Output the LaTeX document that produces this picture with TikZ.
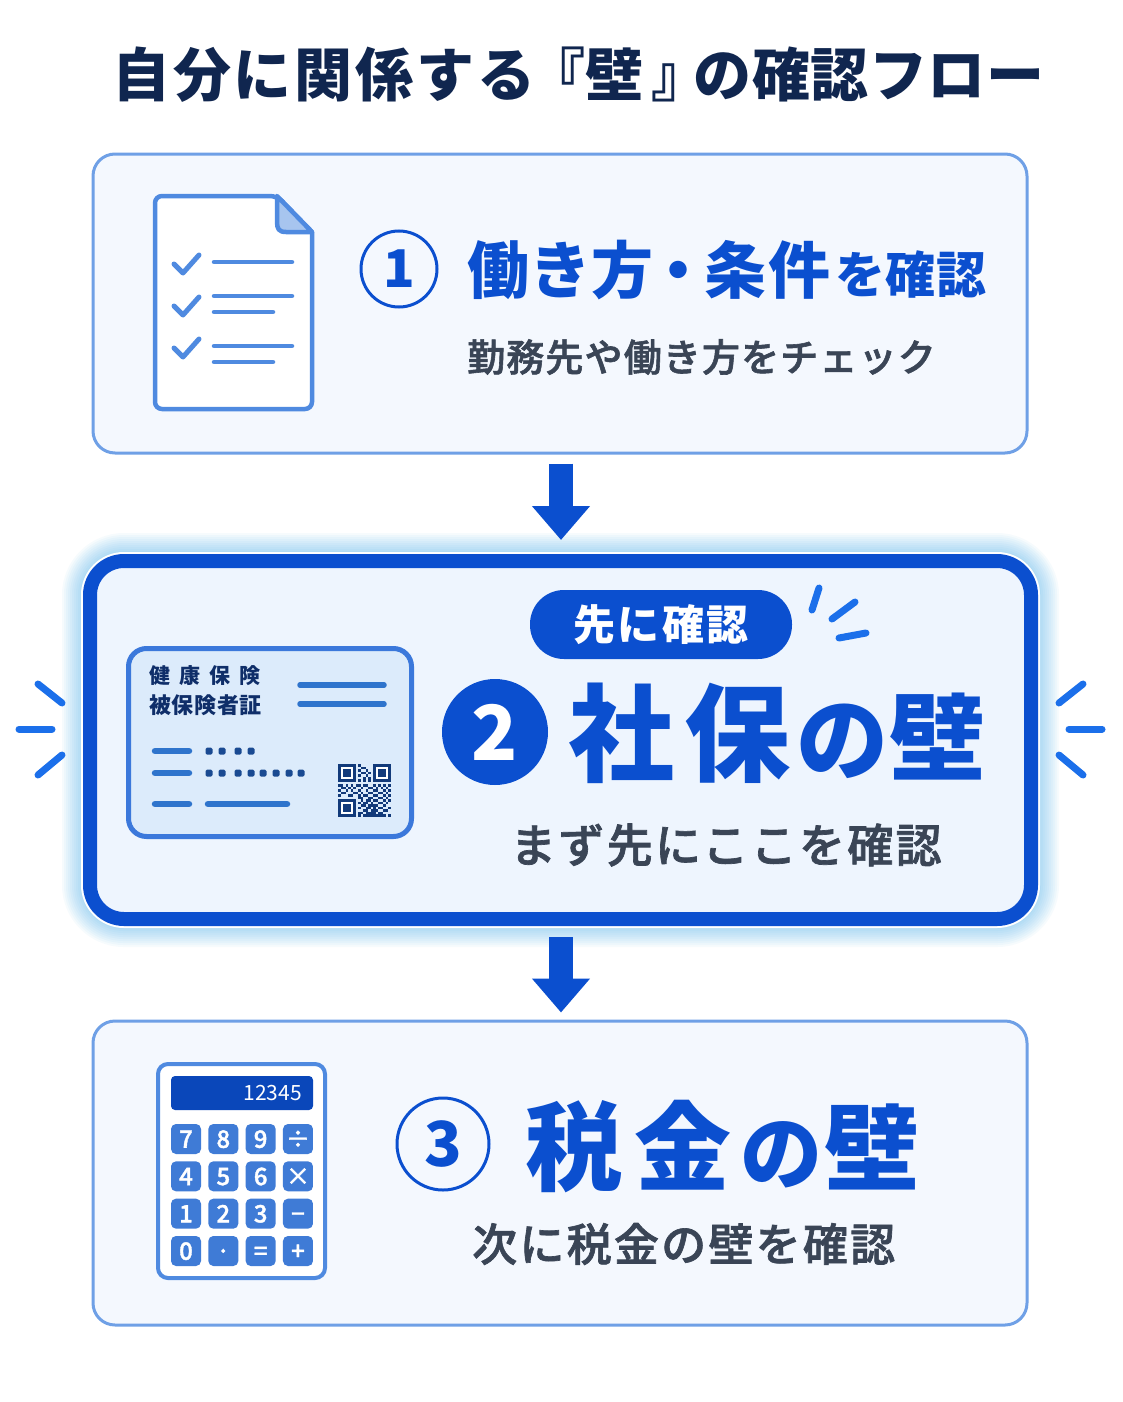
\documentclass[tikz,border=0pt]{standalone}
\usepackage{fontspec}
\setmainfont{Noto Sans CJK JP}
\newfontfamily\medfont{Noto Sans CJK JP Medium}[FakeBold=1.5]
\newfontfamily\blackfont{Noto Sans CJK JP Black}
\usetikzlibrary{arrows.meta,calc}
\newcommand{\fsz}[1]{\fontsize{#1}{#1}\selectfont}
\newcommand{\spc}[1]{\addfontfeature{LetterSpace=#1}}
\definecolor{navy}{HTML}{10264F}
\definecolor{ink}{HTML}{3A4556}
\definecolor{royal}{HTML}{0B4FCF}
\definecolor{edge}{HTML}{6FA0E6}
\definecolor{paper}{HTML}{F4F8FE}
\definecolor{mainpaper}{HTML}{EEF5FE}
\definecolor{cardpaper}{HTML}{DCEBFB}
\definecolor{icon}{HTML}{4F8AE0}
\definecolor{keyblue}{HTML}{3F7BD6}
\definecolor{spark}{HTML}{1B6FEA}
\definecolor{cardline}{HTML}{2F74CC}
\definecolor{cardink}{HTML}{1A4A92}
\definecolor{qrink}{HTML}{123A7A}

\begin{document}
\begin{tikzpicture}
  [
    x=1pt, y=-1pt,
    plainbox/.style =
      {draw=edge, fill=paper, line width=3pt, rounded corners=22pt, minimum width=934pt},
    mainbox/.style =
      {draw=royal, fill=mainpaper, line width=14pt, rounded corners=34pt, minimum width=941pt, minimum height=358pt},
    flowarrow/.style =
      {draw=royal, line width=24pt, -{Triangle[length=34pt,width=56pt]}},
    numring/.style =
      {circle, draw=royal, line width=3pt, fill=none, text=royal, inner sep=0pt},
    headtext/.style =
      {anchor=west, inner sep=0pt, text=royal},
    subtext/.style =
      {anchor=west, inner sep=0pt, text=ink},
    sparkline/.style =
      {draw=spark, line width=7pt, line cap=round},
    iconline/.style =
      {draw=icon, line width=4.5pt, line cap=round, line join=round},
    cardbar/.style =
      {draw=cardline, line width=6.5pt, line cap=round},
    carddot/.style =
      {fill=cardink, rounded corners=1.5pt, minimum size=7pt, inner sep=0pt},
    calckey/.style =
      {fill=keyblue, rounded corners=5pt, minimum size=30pt, inner sep=0pt, text=white, text height=17.5pt, text depth=0pt, font=\medfont\fsz{24}}
  ]

\useasboundingbox (0,0) rectangle (1122,1402);
\fill[white] (0,0) rectangle (1122,1402);

\node[anchor=west, inner sep=0pt, text=navy, font=\blackfont\fsz{58}] (title) at (112,75) {{\spc{5}自分に関係する}\hspace{-8pt}『壁\hspace{8pt}』\hspace{-16pt}{\spc{1}の確認フロー}};

% glow round the second box
\foreach \glow in {56,52,...,20}
  \draw[royal!60!cyan, opacity=0.035, line width=\glow pt, rounded corners=34pt] (90,561) rectangle (1031,919);
\draw[white, line width=18pt, rounded corners=34pt] (90,561) rectangle (1031,919);

\node[plainbox, minimum height=299pt] (stepone) at (560,303.5) {};
\node[mainbox] (steptwo) at (560.5,740) {};
\node[plainbox, minimum height=304pt] (stepthree) at (560,1173) {};

\draw[flowarrow, shorten <=9pt, shorten >=14pt] (stepone.south -| 561,0) -- (steptwo.north -| 561,0);
\draw[flowarrow, shorten <=11pt, shorten >=7pt] (steptwo.south -| 561,0) -- (stepthree.north -| 561,0);

% step one
\node[numring, minimum size=76pt, font=\bfseries\fsz{52}] (numone) at (399,269) {1};
\node[headtext, font=\blackfont\fsz{62}] (headone) at (467,270) {働き方\hspace{-6pt}・\hspace{-5pt}{\spc{3}条件}\hspace{5pt}{\fsz{50}\spc{1}を確認}};
\node[subtext, font=\medfont\fsz{38}\spc{3}] (subone) at (467,357) {勤務先や働き方をチェック};

% sheet with ticks
\draw[iconline, fill=white, rounded corners=7pt] (312,232) -- (312,409) -- (155,409) -- (155,196) -- (277,196) [sharp corners] -- cycle;
\draw[iconline, fill=icon!50!white] (277,196) -- (277,222) .. controls (277,229) and (279,232) .. (286,232) -- (312,232) -- cycle;
\foreach \ty in {264,306,348}
  \draw[iconline, line width=5pt] (174,\ty) -- ++(9,9) -- ++(16,-18);
\foreach \ly/\lx in {262/292,296/292,312/273,346/292,362/273}
  \draw[iconline] (214,\ly) -- (\lx,\ly);

% step two
\node[fill=royal, rounded corners=34pt, minimum width=262pt, minimum height=69pt, inner sep=0pt, text=white, font=\bfseries\fsz{42}\spc{5}] (badge) at (661,624.5) {先に確認};
\draw[sparkline] (819,588) -- (812,610);
\draw[sparkline] (855,602) -- (832,619);
\draw[sparkline] (866,633) -- (839,638);
\node[circle, fill=royal, minimum size=106pt, inner sep=0pt, text=white, font=\bfseries\fsz{76}] (numtwo) at (495,732) {2};
\node[headtext, font=\blackfont\fsz{106}] (headtwo) at (568,733) {{\spc{10}社保}\hspace{6pt}{\normalfont\bfseries\fsz{92}の}\hspace{1pt}{\fsz{96}壁}};
\node[subtext, font=\medfont\fsz{46}\spc{5}] (subtwo) at (510,845) {まず先にここを確認};

% side sparks
\draw[sparkline] (38,684) -- (62,703);
\draw[sparkline] (19,729) -- (52,729);
\draw[sparkline] (38,775) -- (62,755);
\draw[sparkline] (1083,684) -- (1059,703);
\draw[sparkline] (1102,729) -- (1069,729);
\draw[sparkline] (1083,775) -- (1059,755);

% insurance card
\node[draw=icon!70!royal, fill=cardpaper, line width=5pt, rounded corners=18pt, minimum width=283pt, minimum height=188pt] (card) at (270,742.5) {};
\node[anchor=west, inner sep=0pt, text=navy!80!royal, font=\bfseries\fsz{21}] (cardtop) at (149,676) {健\hspace{9pt}康\hspace{9pt}保\hspace{9pt}険};
\node[anchor=west, inner sep=0pt, text=navy!80!royal, font=\bfseries\fsz{22}\spc{3}] (cardbot) at (149,705) {被保険者証};
\foreach \by in {685,704}
  \draw[cardbar, line width=5.5pt] (300,\by) -- (384,\by);
\foreach \by in {751,773,804}
  \draw[cardbar] (155,\by) -- (189,\by);
\draw[cardbar] (208,804) -- (287,804);
\foreach \dx in {209,222,238,251}
  \node[carddot] at (\dx,751) {};
\foreach \dx in {209,222,238,251,263,276,289,301}
  \node[carddot] at (\dx,773) {};

% qr code
\begin{scope}[shift={(338,764)}, x=2.52pt, y=-2.52pt]
  \foreach \fx/\fy in {0/0,14/0,0/14} {
    \fill[qrink] (\fx,\fy) rectangle ++(7,7);
    \fill[white] (\fx+1,\fy+1) rectangle ++(5,5);
    \fill[qrink] (\fx+2,\fy+2) rectangle ++(3,3);
  }
  \foreach \qx/\qy in {8/0,9/1,10/1,8/2,11/2,9/3,10/3,12/3,8/4,11/4,10/5,12/5,8/6,10/6,12/6,
    0/8,1/8,3/8,5/8,7/8,8/8,10/8,11/8,14/8,16/8,18/8,20/8,
    1/9,2/9,4/9,6/9,9/9,12/9,13/9,15/9,17/9,19/9,
    0/10,3/10,5/10,8/10,11/10,14/10,15/10,18/10,20/10,
    1/11,2/11,6/11,7/11,9/11,12/11,13/11,16/11,17/11,19/11,
    0/12,4/12,5/12,8/12,10/12,11/12,14/12,15/12,18/12,20/12,
    8/13,9/13,12/13,13/13,16/13,17/13,19/13,
    9/14,11/14,12/14,14/14,15/14,18/14,20/14,
    8/15,10/15,11/15,13/15,16/15,17/15,19/15,
    9/16,10/16,12/16,13/16,14/16,15/16,18/16,
    8/17,11/17,12/17,14/17,16/17,17/17,20/17,
    10/18,11/18,13/18,14/18,15/18,18/18,19/18,
    8/19,9/19,11/19,12/19,13/19,14/19,16/19,17/19,
    8/20,10/20,11/20,12/20,13/20,14/20,15/20,16/20,17/20,18/20,20/20}
    \fill[qrink] (\qx,\qy) rectangle ++(1,1);
\end{scope}

% step three
\node[numring, minimum size=92pt, font=\bfseries\fsz{62}] (numthree) at (443,1144) {3};
\node[headtext, font=\blackfont\fsz{97}] (headthree) at (525,1147) {{\spc{13}税金}\hspace{9pt}{\normalfont\bfseries\fsz{82}の}\hspace{2pt}{\fsz{95}壁}};
\node[subtext, font=\medfont\fsz{45}\spc{5}] (subthree) at (472,1244) {次に税金の壁を確認};

% calculator
\node[draw=icon, fill=white, line width=4pt, rounded corners=10pt, minimum width=167pt, minimum height=214pt] (calc) at (241.5,1171) {};
\node[fill=royal!90!black, rounded corners=4pt, minimum width=142pt, minimum height=34pt, inner sep=0pt] (display) at (242,1093) {};
\node[anchor=east, inner sep=0pt, text=white, font=\fsz{21}] (readout) at (302,1093) {12345};
\foreach \keytext [count=\k from 0] in {7,8,9,÷,4,5,6,×,1,2,3,−,0,·,=,+} {
  \pgfmathtruncatemacro{\col}{mod(\k,4)}
  \pgfmathtruncatemacro{\row}{div(\k,4)}
  \node[calckey] (key\k) at (186+37.33*\col,1139+37.33*\row) {\keytext};
}

\end{tikzpicture}
\end{document}
